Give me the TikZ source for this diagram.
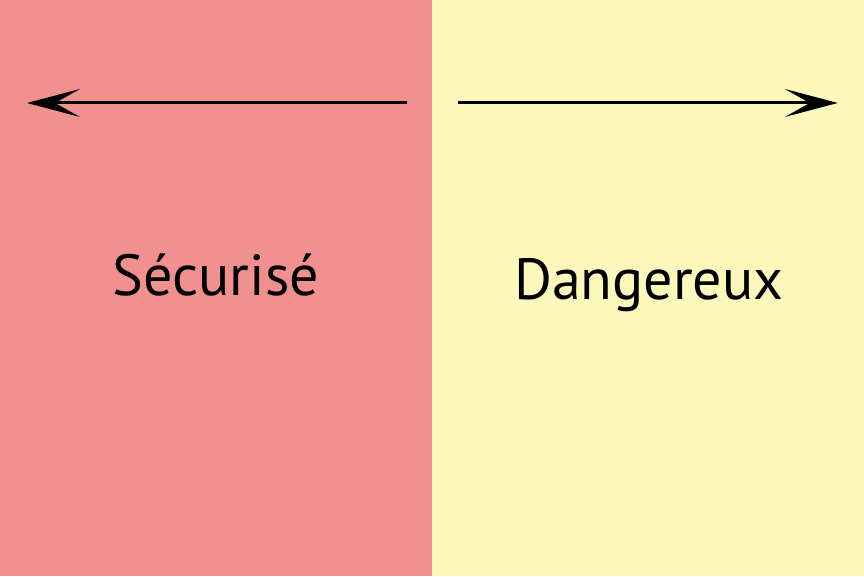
\documentclass[tikz,border=0pt]{standalone}
\usepackage{fontspec}
\setmainfont{PT Sans}
\usepackage{xcolor}
\usetikzlibrary{arrows.meta,positioning}
\definecolor{safered}{HTML}{F0908F}
\definecolor{riskyellow}{HTML}{FCF8BB}

\begin{document}
\begin{tikzpicture}[
    x=1pt,y=-1pt,
    >={Stealth[length=53pt,width=28pt,inset=25pt]},
    zone/.style={rectangle,draw=none,inner sep=0pt,minimum width=432pt,
                 minimum height=576pt,anchor=north west},
    lbl/.style={font=\fontsize{58}{66}\selectfont,anchor=base,inner sep=0pt},
    fl/.style={->,line width=3pt,black},
]

\node[zone,fill=safered] (safe) at (0,0) {};
\node[zone,fill=riskyellow] (risky) at (432,0) {};
\useasboundingbox (0,0) rectangle (864,576);

% arrows
\coordinate (lstart) at (407,103);
\coordinate (lend) at (27,103);
\coordinate (rstart) at (458,103);
\coordinate (rend) at (838,103);
\draw[fl] (lstart) -- (lend);
\draw[fl] (rstart) -- (rend);

% labels
\node[lbl] (safetxt) at (216,296) {Sécurisé};
\node[lbl] (risktxt) at (649,300) {Dangereux};

\end{tikzpicture}
\end{document}
